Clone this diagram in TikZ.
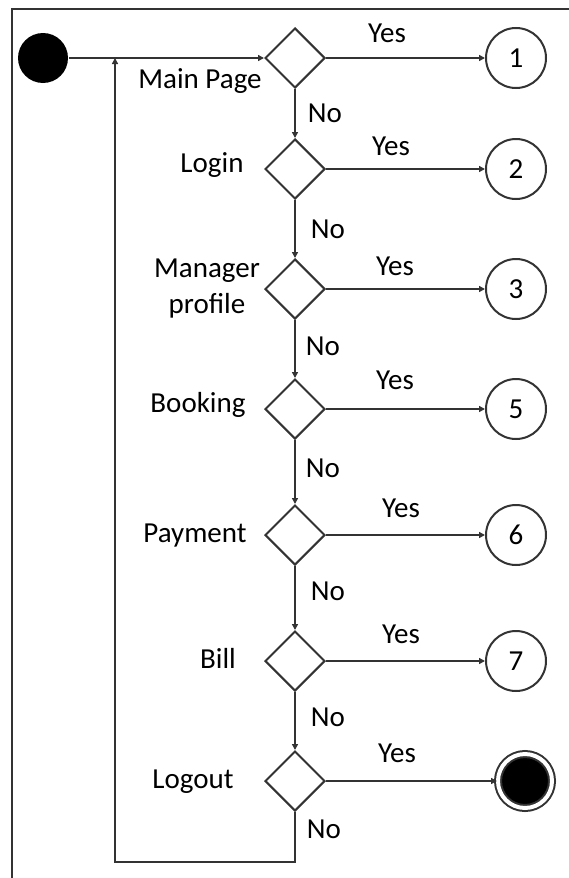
\documentclass[tikz,border=0pt]{standalone}
\usepackage{fontspec}
\setmainfont{Carlito}
\usetikzlibrary{shapes.geometric,arrows.meta}

\begin{document}
\begin{tikzpicture}[x=1pt,y=-1pt,line width=2pt,
    >={Triangle[length=6pt,width=6pt]},
    every node/.style={font=\fontsize{29}{36}\selectfont},
    decision/.style={draw=black!80,diamond,minimum width=60pt,minimum height=60pt,inner sep=0pt},
    target/.style={draw=black!80,circle,minimum size=60pt,inner sep=0pt},
    lbl/.style={anchor=base,inner sep=0pt}]
    \useasboundingbox (0,0) rectangle (569,878);
    \draw[black!80] (12,878) -- (12,9) -- (569,9);

    \node[circle,fill=black,minimum size=50pt,inner sep=0pt] (start) at (43,58) {};

    \node[decision] (d1) at (295,58) {};
    \node[decision] (d2) at (295,169) {};
    \node[decision] (d3) at (295,289) {};
    \node[decision] (d4) at (295,409) {};
    \node[decision] (d5) at (295,535) {};
    \node[decision] (d6) at (295,661) {};
    \node[decision] (d7) at (295,781) {};

    \node[target] (c1) at (516,58) {1};
    \node[target] (c2) at (516,169) {2};
    \node[target] (c3) at (516,289) {3};
    \node[target] (c5) at (516,409) {5};
    \node[target] (c6) at (516,535) {6};
    \node[target] (c7) at (516,661) {7};
    \node[circle,fill=black,draw=black!80,double=white,double distance=4pt,minimum size=54pt,inner sep=0pt] (stop) at (525,781) {};

    % state names
    \node[lbl] (main) at (200,88) {Main Page};
    \node[lbl] (login) at (212,172) {Login};
    \node[align=center] (manager) at (207,289) {Manager\\profile};
    \node[lbl] (booking) at (198,412) {Booking};
    \node[lbl] (payment) at (195,542) {Payment};
    \node[lbl] (bill) at (218,668) {Bill};
    \node[lbl] (logout) at (193,788) {Logout};

    % yes / no
    \node[lbl] (yes1) at (387,42) {Yes};
    \node[lbl] (yes2) at (391,155) {Yes};
    \node[lbl] (yes3) at (395,275) {Yes};
    \node[lbl] (yes4) at (395,389) {Yes};
    \node[lbl] (yes5) at (401,517) {Yes};
    \node[lbl] (yes6) at (401,643) {Yes};
    \node[lbl] (yes7) at (397,762) {Yes};
    \node[lbl] (no1) at (325,122) {No};
    \node[lbl] (no2) at (328,238) {No};
    \node[lbl] (no3) at (323,355) {No};
    \node[lbl] (no4) at (323,477) {No};
    \node[lbl] (no5) at (328,600) {No};
    \node[lbl] (no6) at (328,726) {No};
    \node[lbl] (no7) at (324,838) {No};

    \draw[->,black!80] (start) -- (d1);
    \draw[->,black!80] (d1) -- (c1);
    \draw[->,black!80] (d2) -- (c2);
    \draw[->,black!80] (d3) -- (c3);
    \draw[->,black!80] (d4) -- (c5);
    \draw[->,black!80] (d5) -- (c6);
    \draw[->,black!80] (d6) -- (c7);
    \draw[->,black!80] (d7) -- (stop);
    \draw[->,black!80] (d1) -- (d2);
    \draw[->,black!80] (d2) -- (d3);
    \draw[->,black!80] (d3) -- (d4);
    \draw[->,black!80] (d4) -- (d5);
    \draw[->,black!80] (d5) -- (d6);
    \draw[->,black!80] (d6) -- (d7);

    % back to main page
    \coordinate (loopR) at (295,862);
    \coordinate (loopL) at (115,862);
    \coordinate (back) at (115,58);
    \draw[->,black!80] (d7.south) -- (loopR) -- (loopL) -- (back);
\end{tikzpicture}
\end{document}
